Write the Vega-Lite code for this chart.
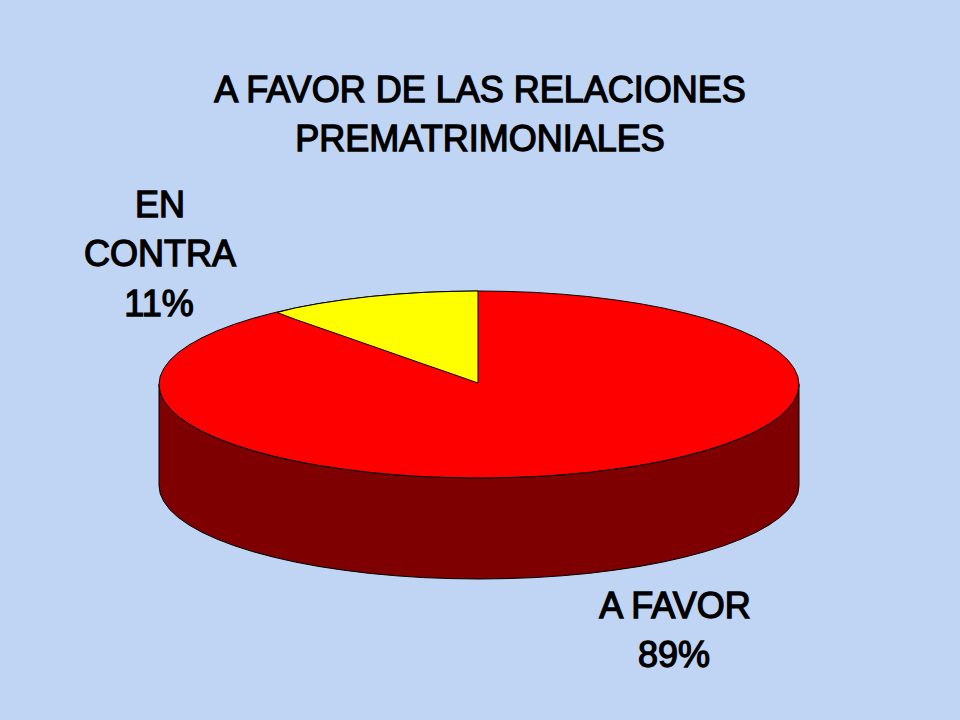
{"$schema":"https://vega.github.io/schema/vega-lite/v6.json","autosize":{"type":"fit","contains":"padding"},"width":960,"height":720,"padding":0,"background":"#C0D4F3","config":{"view":{"stroke":null}},
"datasets":{
"rim":[{"x":159,"top":384.5,"bottom":384.5,"low":485.5},{"x":160.2,"top":376.35,"bottom":392.65,"low":493.65},{"x":163.9,"top":368.3,"bottom":400.7,"low":501.7},{"x":169.9,"top":360.3,"bottom":408.7,"low":509.7},{"x":178.3,"top":352.5,"bottom":416.5,"low":517.5},{"x":189,"top":345,"bottom":424,"low":525},{"x":201.9,"top":337.75,"bottom":431.25,"low":532.25},{"x":216.9,"top":330.9,"bottom":438.1,"low":539.1},{"x":233.9,"top":324.4,"bottom":444.6,"low":545.6},{"x":252.7,"top":318.4,"bottom":450.6,"low":551.6},{"x":273.3,"top":312.9,"bottom":456.1,"low":557.1},{"x":295.4,"top":307.9,"bottom":461.1,"low":562.1},{"x":319,"top":303.5,"bottom":465.5,"low":566.5},{"x":343.8,"top":299.8,"bottom":469.2,"low":570.2},{"x":369.6,"top":296.6,"bottom":472.4,"low":573.4},{"x":396.2,"top":294.2,"bottom":474.8,"low":575.8},{"x":423.4,"top":292.4,"bottom":476.6,"low":577.6},{"x":451.1,"top":291.4,"bottom":477.6,"low":578.6},{"x":479,"top":291,"bottom":478,"low":579},{"x":506.9,"top":291.4,"bottom":477.6,"low":578.6},{"x":534.6,"top":292.4,"bottom":476.6,"low":577.6},{"x":561.8,"top":294.2,"bottom":474.8,"low":575.8},{"x":588.4,"top":296.6,"bottom":472.4,"low":573.4},{"x":614.2,"top":299.8,"bottom":469.2,"low":570.2},{"x":639,"top":303.5,"bottom":465.5,"low":566.5},{"x":662.6,"top":307.9,"bottom":461.1,"low":562.1},{"x":684.7,"top":312.9,"bottom":456.1,"low":557.1},{"x":705.3,"top":318.4,"bottom":450.6,"low":551.6},{"x":724.1,"top":324.4,"bottom":444.6,"low":545.6},{"x":741.1,"top":330.9,"bottom":438.1,"low":539.1},{"x":756.1,"top":337.75,"bottom":431.25,"low":532.25},{"x":769,"top":345,"bottom":424,"low":525},{"x":779.7,"top":352.5,"bottom":416.5,"low":517.5},{"x":788.1,"top":360.3,"bottom":408.7,"low":509.7},{"x":794.1,"top":368.3,"bottom":400.7,"low":501.7},{"x":797.8,"top":376.35,"bottom":392.65,"low":493.65},{"x":799,"top":384.5,"bottom":384.5,"low":485.5}],
"wedge":[{"x":277,"top":312.5,"bottom":312.5},{"x":295.4,"top":307.9,"bottom":319.4},{"x":319,"top":303.5,"bottom":327.6},{"x":343.8,"top":299.8,"bottom":336.2},{"x":369.6,"top":296.6,"bottom":345.2},{"x":396.2,"top":294.2,"bottom":354.5},{"x":423.4,"top":292.4,"bottom":364},{"x":451.1,"top":291.4,"bottom":373.6},{"x":478,"top":291,"bottom":383}],
"labels":[{"x":480,"y":101.5,"t":"A FAVOR DE LAS RELACIONES"},{"x":480,"y":151,"t":"PREMATRIMONIALES"},{"x":160,"y":217,"t":"EN"},{"x":160,"y":266,"t":"CONTRA"},{"x":159,"y":316,"t":"11%"},{"x":675,"y":618,"t":"A FAVOR"},{"x":674,"y":667,"t":"89%"}]
},
"layer":[
{"data":{"name":"rim"},"mark":{"type":"area","color":"#7F0000","stroke":"#000000","strokeWidth":1},"encoding":{"x":{"field":"x","type":"quantitative","scale":{"domain":[0,960],"nice":false,"zero":false},"axis":null},"y":{"field":"bottom","type":"quantitative","scale":{"domain":[720,0],"nice":false,"zero":false},"axis":null},"y2":{"field":"low"}}},
{"data":{"name":"rim"},"mark":{"type":"area","color":"#FF0000","stroke":"#000000","strokeWidth":1},"encoding":{"x":{"field":"x","type":"quantitative","scale":{"domain":[0,960],"nice":false,"zero":false},"axis":null},"y":{"field":"top","type":"quantitative","scale":{"domain":[720,0],"nice":false,"zero":false},"axis":null},"y2":{"field":"bottom"}}},
{"data":{"name":"wedge"},"mark":{"type":"area","color":"#FFFF00","stroke":"#000000","strokeWidth":1},"encoding":{"x":{"field":"x","type":"quantitative","scale":{"domain":[0,960],"nice":false,"zero":false},"axis":null},"y":{"field":"top","type":"quantitative","scale":{"domain":[720,0],"nice":false,"zero":false},"axis":null},"y2":{"field":"bottom"}}},
{"data":{"name":"labels"},"mark":{"type":"text","font":"Liberation Sans","fontSize":36,"fontWeight":"normal","stroke":"#000000","strokeWidth":1.3,"color":"#000000","align":"center","baseline":"alphabetic"},"encoding":{"x":{"field":"x","type":"quantitative","scale":{"domain":[0,960],"nice":false,"zero":false},"axis":null},"y":{"field":"y","type":"quantitative","scale":{"domain":[720,0],"nice":false,"zero":false},"axis":null},"text":{"field":"t","type":"nominal"}}}
]}
